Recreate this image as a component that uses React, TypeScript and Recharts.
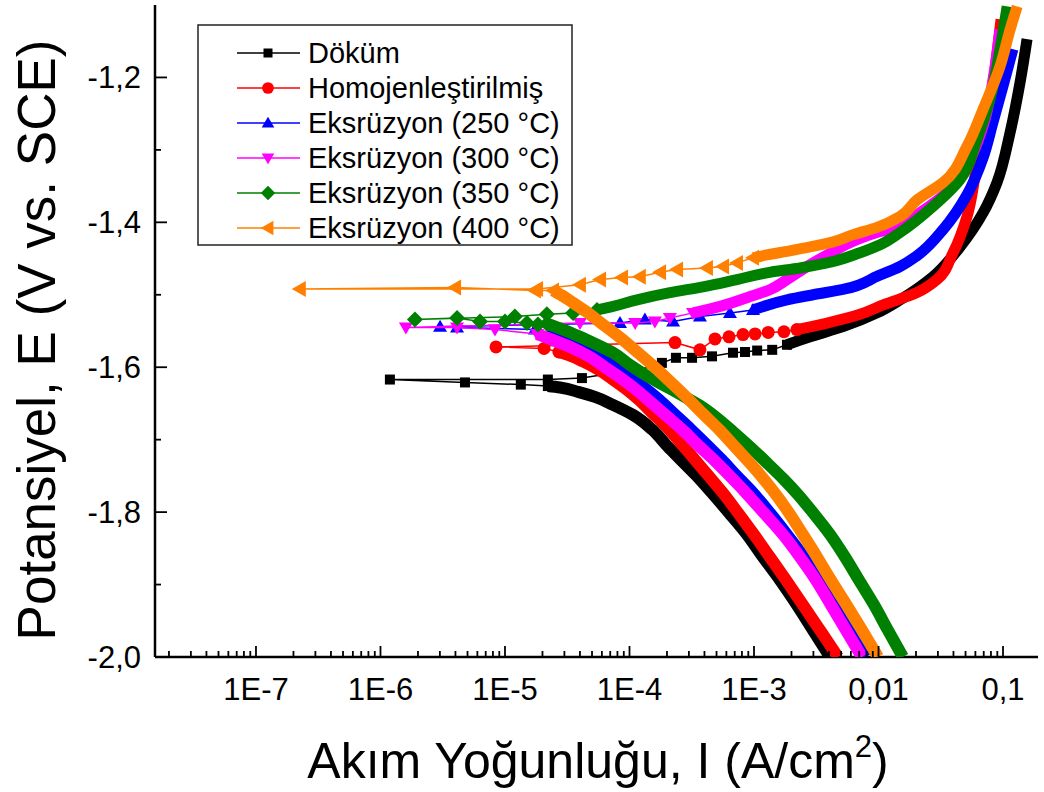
import { Legend, Scatter, ScatterChart, XAxis, YAxis } from "recharts";

// current density (A/cm²), potential (V vs. SCE)
const dokumCathodic = [
  [4.08e-3, -2.0], [2.98e-3, -1.963], [2.21e-3, -1.928], [1.62e-3, -1.894], [1.18e-3, -1.862], [8.79e-4, -1.831],
  [6.3e-4, -1.801], [4.51e-4, -1.772], [3.42e-4, -1.749], [2.59e-4, -1.728], [2.04e-4, -1.71], [1.52e-4, -1.686],
  [1.07e-4, -1.666], [7.37e-5, -1.652], [5.28e-5, -1.641], [3.86e-5, -1.634], [2.77e-5, -1.628], [2.21e-5, -1.626],
];
const dokumSparse = [
  [2.21e-5, -1.626], [1.34e-5, -1.624], [4.77e-6, -1.621], [1.19e-6, -1.617], [2.21e-5, -1.617], [4.15e-5, -1.615],
  [1.6e-4, -1.599], [1.82e-4, -1.594], [2.36e-4, -1.587], [3.18e-4, -1.587], [4.6e-4, -1.585], [6.78e-4, -1.58],
  [8.47e-4, -1.579], [1.06e-3, -1.577], [1.4e-3, -1.576], [1.84e-3, -1.569],
];
const dokumAnodic = [
  [1.84e-3, -1.569], [2.82e-3, -1.558], [5.19e-3, -1.544], [9.73e-3, -1.525], [1.49e-2, -1.507], [2.74e-2, -1.475],
  [4.51e-2, -1.434], [6.91e-2, -1.387], [8.95e-2, -1.345], [1.14e-1, -1.276], [1.37e-1, -1.207], [1.56e-1, -1.147],
];

const homojenCathodic = [
  [4.73e-3, -2.0], [3.39e-3, -1.963], [2.47e-3, -1.928], [1.81e-3, -1.894], [1.34e-3, -1.862], [1.0e-3, -1.831],
  [7.44e-4, -1.801], [5.53e-4, -1.772], [4.27e-4, -1.749], [3.36e-4, -1.728], [2.74e-4, -1.71], [2.08e-4, -1.686],
  [1.52e-4, -1.663], [1.19e-4, -1.645], [9.55e-5, -1.631], [7.37e-5, -1.617], [5.58e-5, -1.603], [4.23e-5, -1.592],
  [3.33e-5, -1.584], [2.71e-5, -1.579],
];
const homojenSparse = [
  [2.71e-5, -1.579], [2.06e-5, -1.574], [8.47e-6, -1.572], [2.32e-4, -1.566], [3.68e-4, -1.576], [4.86e-4, -1.561],
  [6.3e-4, -1.558], [8.16e-4, -1.555], [1.02e-3, -1.554], [1.3e-3, -1.552], [1.74e-3, -1.551], [2.21e-3, -1.548],
];
const homojenAnodic = [
  [2.21e-3, -1.548], [3.86e-3, -1.539], [7.1e-3, -1.527], [1.09e-2, -1.514], [2.04e-2, -1.497], [2.95e-2, -1.479],
  [3.97e-2, -1.442], [5.14e-2, -1.392], [6.18e-2, -1.323], [7.44e-2, -1.268], [8.63e-2, -1.189], [9.64e-2, -1.12],
];

const eks250Cathodic = [
  [7.93e-3, -2.0], [5.9e-3, -1.963], [4.47e-3, -1.928], [3.39e-3, -1.894], [2.52e-3, -1.862], [1.84e-3, -1.831],
  [1.34e-3, -1.801], [9.64e-4, -1.772], [7.17e-4, -1.749], [5.53e-4, -1.728], [4.35e-4, -1.71], [3.12e-4, -1.686],
  [2.24e-4, -1.663], [1.73e-4, -1.645], [1.38e-4, -1.631], [1.03e-4, -1.615], [7.93e-5, -1.601], [5.69e-5, -1.585],
  [4.15e-5, -1.573], [2.92e-5, -1.562], [2.26e-5, -1.555],
];
const eks250Sparse = [
  [2.26e-5, -1.555], [1.74e-5, -1.548], [4.12e-6, -1.545], [3.01e-6, -1.544], [8.39e-5, -1.539], [1.33e-4, -1.534],
  [2.24e-4, -1.537], [3.68e-4, -1.53], [6.41e-4, -1.525], [9.82e-4, -1.521],
];
const eks250Anodic = [
  [9.82e-4, -1.521], [1.84e-3, -1.507], [2.98e-3, -1.5], [5.38e-3, -1.492], [9.91e-3, -1.474], [1.49e-2, -1.461],
  [2.04e-2, -1.446], [3.3e-2, -1.41], [5.14e-2, -1.362], [6.91e-2, -1.311], [8.31e-2, -1.262], [1.0e-1, -1.212],
  [1.2e-1, -1.161],
];

const eks300Cathodic = [
  [7.37e-3, -2.0], [5.48e-3, -1.963], [4.15e-3, -1.928], [3.15e-3, -1.894], [2.34e-3, -1.862], [1.71e-3, -1.831],
  [1.2e-3, -1.801], [8.47e-4, -1.772], [6.3e-4, -1.749], [4.77e-4, -1.728], [3.68e-4, -1.71], [2.64e-4, -1.686],
  [1.86e-4, -1.663], [1.41e-4, -1.645], [1.13e-4, -1.631], [8.55e-5, -1.615], [6.47e-5, -1.601], [4.73e-5, -1.585],
  [3.45e-5, -1.573], [2.38e-5, -1.562], [1.81e-5, -1.554],
];
const eks300Sparse = [
  [1.81e-5, -1.554], [8.31e-6, -1.548], [4.12e-6, -1.545], [1.6e-6, -1.545], [4.0e-5, -1.539], [1.11e-4, -1.539],
  [1.6e-4, -1.537], [2.11e-4, -1.532], [3.24e-4, -1.525],
];
const eks300Anodic = [
  [3.24e-4, -1.525], [5.33e-4, -1.516], [8.79e-4, -1.504], [1.34e-3, -1.493], [1.84e-3, -1.479], [2.67e-3, -1.461],
  [3.86e-3, -1.445], [5.9e-3, -1.428], [9.73e-3, -1.414], [1.41e-2, -1.407], [2.15e-2, -1.387], [3.75e-2, -1.355],
  [5.43e-2, -1.313], [7.17e-2, -1.258], [8.31e-2, -1.203], [9.46e-2, -1.134],
];

const eks350Cathodic = [
  [1.57e-2, -2.0], [1.19e-2, -1.963], [9.2e-3, -1.928], [6.97e-3, -1.894], [5.38e-3, -1.862], [4.08e-3, -1.831],
  [2.98e-3, -1.801], [2.26e-3, -1.776], [1.74e-3, -1.755], [1.27e-3, -1.732], [9.29e-4, -1.71], [6.78e-4, -1.689],
  [4.86e-4, -1.668], [3.68e-4, -1.653], [2.79e-4, -1.641], [2.04e-4, -1.628], [1.41e-4, -1.613], [1.01e-4, -1.597],
  [7.37e-5, -1.58], [5.48e-5, -1.569], [4.0e-5, -1.558], [2.92e-5, -1.548], [2.17e-5, -1.54],
];
const eks350Sparse = [
  [2.17e-5, -1.54], [1.84e-5, -1.541], [1.5e-5, -1.539], [1.0e-5, -1.537], [6.3e-6, -1.537], [4.12e-6, -1.532],
  [1.89e-6, -1.534], [1.2e-5, -1.53], [2.17e-5, -1.527], [3.52e-5, -1.525], [5.48e-5, -1.521],
];
const eks350Anodic = [
  [5.48e-5, -1.521], [7.37e-5, -1.516], [1.15e-4, -1.507], [2.11e-4, -1.497], [3.89e-4, -1.489], [7.3e-4, -1.479],
  [1.34e-3, -1.469], [2.34e-3, -1.463], [3.86e-3, -1.456], [7.1e-3, -1.442], [1.03e-2, -1.431], [1.49e-2, -1.414],
  [2.74e-2, -1.378], [4.51e-2, -1.341], [6.18e-2, -1.286], [7.86e-2, -1.23], [9.46e-2, -1.161], [1.08e-1, -1.102],
];

const eks400Cathodic = [
  [9.91e-3, -2.0], [7.37e-3, -1.963], [5.53e-3, -1.928], [4.15e-3, -1.894], [3.21e-3, -1.862], [2.47e-3, -1.831],
  [1.91e-3, -1.801], [1.4e-3, -1.769], [9.82e-4, -1.737], [7.04e-4, -1.71], [5.24e-4, -1.686], [3.82e-4, -1.663],
  [2.74e-4, -1.638], [2.04e-4, -1.617], [1.57e-4, -1.599], [1.17e-4, -1.58], [8.39e-5, -1.559], [5.9e-5, -1.539],
  [4.47e-5, -1.523], [3.52e-5, -1.511], [2.87e-5, -1.501], [2.43e-5, -1.494],
];
const eks400Sparse = [
  [2.43e-5, -1.494], [1.74e-5, -1.494], [3.97e-6, -1.49], [2.25e-7, -1.492], [1.81e-5, -1.492], [4.0e-5, -1.486],
  [5.8e-5, -1.479], [8.71e-5, -1.476], [1.21e-4, -1.475], [1.76e-4, -1.469], [2.41e-4, -1.465], [4.19e-4, -1.463],
  [5.64e-4, -1.461], [7.3e-4, -1.456], [9.82e-4, -1.449],
];
const eks400Anodic = [
  [9.82e-4, -1.449], [1.27e-3, -1.445], [1.84e-3, -1.44], [2.82e-3, -1.434], [4.31e-3, -1.427], [6.24e-3, -1.417],
  [9.73e-3, -1.407], [1.49e-2, -1.392], [2.04e-2, -1.369], [3.3e-2, -1.345], [5.14e-2, -1.295], [6.91e-2, -1.244],
  [9.46e-2, -1.185], [1.14e-1, -1.134], [1.3e-1, -1.102],
];

const X_MAJOR = [1e-7, 1e-6, 1e-5, 1e-4, 1e-3, 1e-2, 1e-1];
const X_LABELS = ["1E-7", "1E-6", "1E-5", "1E-4", "1E-3", "0,01", "0,1"];
const X_DECADES = [1e-8, 1e-7, 1e-6, 1e-5, 1e-4, 1e-3, 1e-2, 1e-1];
const X_MINOR_STEPS = [2, 3, 4, 5, 6, 7, 8, 9];
const Y_TICKS = [-2.0, -1.9, -1.8, -1.7, -1.6, -1.5, -1.4, -1.3, -1.2];
const Y_LABELS = ["-2,0", "", "-1,8", "", "-1,6", "", "-1,4", "", "-1,2"];

const X_DOMAIN = [1.545e-8, 0.191];
const Y_DOMAIN = [-2.0, -1.1];

const X_TICKS = [
  ...X_MAJOR,
  ...X_DECADES.flatMap(d => X_MINOR_STEPS.map(s => s * d)),
].filter(v => v >= X_DOMAIN[0] && v <= X_DOMAIN[1]).sort((a, b) => a - b);

const toPoints = (rows: number[][]) => rows.map(([i, e]) => ({ i, e }));

const FONT = "'Liberation Sans', Arial, Helvetica, sans-serif";

const SERIES = [
  { name: "Döküm", color: "#000000", marker: "square", cathodic: dokumCathodic, sparse: dokumSparse, anodic: dokumAnodic },
  { name: "Homojenleştirilmiş", color: "#ff0000", marker: "circle", cathodic: homojenCathodic, sparse: homojenSparse, anodic: homojenAnodic },
  { name: "Eksrüzyon (250 °C)", color: "#0000ff", marker: "up", cathodic: eks250Cathodic, sparse: eks250Sparse, anodic: eks250Anodic },
  { name: "Eksrüzyon (300 °C)", color: "#ff00ff", marker: "down", cathodic: eks300Cathodic, sparse: eks300Sparse, anodic: eks300Anodic },
  { name: "Eksrüzyon (350 °C)", color: "#008000", marker: "diamond", cathodic: eks350Cathodic, sparse: eks350Sparse, anodic: eks350Anodic },
  { name: "Eksrüzyon (400 °C)", color: "#ff8000", marker: "left", cathodic: eks400Cathodic, sparse: eks400Sparse, anodic: eks400Anodic },
];

function Marker({ kind, cx, cy, color, s = 1 }: { kind: string; cx: number; cy: number; color: string; s?: number }) {
  switch (kind) {
    case "square":
      return <rect x={cx - 5 * s} y={cy - 5 * s} width={10 * s} height={10 * s} fill={color} />;
    case "circle":
      return <circle cx={cx} cy={cy} r={6.5 * s} fill={color} />;
    case "up":
      return <polygon points={`${cx},${cy - 7 * s} ${cx + 7 * s},${cy + 5 * s} ${cx - 7 * s},${cy + 5 * s}`} fill={color} />;
    case "down":
      return <polygon points={`${cx - 7 * s},${cy - 5 * s} ${cx + 7 * s},${cy - 5 * s} ${cx},${cy + 7 * s}`} fill={color} />;
    case "diamond":
      return <polygon points={`${cx},${cy - 8 * s} ${cx + 8 * s},${cy} ${cx},${cy + 8 * s} ${cx - 8 * s},${cy}`} fill={color} />;
    default:
      return <polygon points={`${cx - 8 * s},${cy} ${cx + 6 * s},${cy - 8 * s} ${cx + 6 * s},${cy + 8 * s}`} fill={color} />;
  }
}

const XTick = (props: any) => {
  const { x, y, payload } = props;
  const idx = X_MAJOR.findIndex(v => Math.abs(Math.log10(v) - Math.log10(payload.value)) < 1e-6);
  const major = idx >= 0;
  return (
    <g>
      <line x1={x} x2={x} y1={y} y2={y - (major ? 11 : 6)} stroke="#000" strokeWidth={1.8} />
      {major && (
        <text x={x} y={y + 43} textAnchor="middle" fontSize={31} fill="#000" fontFamily={FONT}>
          {X_LABELS[idx]}
        </text>
      )}
    </g>
  );
};

const YTick = (props: any) => {
  const { x, y, payload } = props;
  const idx = Y_TICKS.findIndex(v => Math.abs(v - payload.value) < 1e-6);
  const label = idx >= 0 ? Y_LABELS[idx] : "";
  return (
    <g>
      <line x1={x} x2={x + (label ? 12 : 6)} y1={y} y2={y} stroke="#000" strokeWidth={1.8} />
      {label && (
        <text x={x - 14} y={y + 11} textAnchor="end" fontSize={31} fill="#000" fontFamily={FONT}>
          {label}
        </text>
      )}
    </g>
  );
};

const XTitle = () => (
  <text x={598} y={778} textAnchor="middle" fontSize={50} fill="#000" fontFamily={FONT}>
    Akım Yoğunluğu, I (A/cm<tspan dy={-21} fontSize={31}>2</tspan>
    <tspan dy={21}>)</tspan>
  </text>
);

const YTitle = () => (
  <text x={55} y={340} transform="rotate(-90 55 340)" textAnchor="middle" fontSize={53} fill="#000" fontFamily={FONT}>
    Potansiyel, E (V vs. SCE)
  </text>
);

const renderLegend = () => (
  <svg width={376} height={222} style={{ display: "block" }}>
    <rect x={1} y={1} width={374} height={220} fill="#fff" stroke="#222" strokeWidth={1.5} />
    {SERIES.map((s, k) => {
      const cy = 29 + k * 35;
      return (
        <g key={s.name}>
          <line x1={40} x2={103} y1={cy} y2={cy} stroke={s.color} strokeWidth={1.3} />
          <Marker kind={s.marker} cx={71} cy={cy} color={s.color} s={0.9} />
          <text x={111} y={cy + 10} fontSize={29} fill="#000" fontFamily={FONT}>
            {s.name}
          </text>
        </g>
      );
    })}
  </svg>
);

const hidden = () => <g />;

export default function App() {
  return (
    <div style={{ position: "absolute", left: 0, top: 0, background: "#fff" }}>
      <ScatterChart width={1044} height={792} margin={{ top: 5, right: 6, bottom: 0, left: 0 }} style={{ fontFamily: FONT }}>
        <XAxis
          dataKey="i"
          type="number"
          scale="log"
          domain={X_DOMAIN}
          allowDataOverflow
          ticks={X_TICKS}
          interval={0}
          tick={<XTick />}
          tickLine={false}
          tickSize={0}
          tickMargin={0}
          axisLine={{ stroke: "#000", strokeWidth: 2.5 }}
          height={135}
          label={<XTitle />}
        />
        <YAxis
          dataKey="e"
          type="number"
          domain={Y_DOMAIN}
          allowDataOverflow
          ticks={Y_TICKS}
          interval={0}
          tick={<YTick />}
          tickLine={false}
          tickSize={0}
          tickMargin={0}
          axisLine={{ stroke: "#000", strokeWidth: 2.5 }}
          width={155}
          label={<YTitle />}
        />
        <XAxis xAxisId="top" orientation="top" type="number" domain={[0, 1]} tick={false} tickLine={false} height={0} axisLine={{ stroke: "#000", strokeWidth: 2 }} />
        <YAxis yAxisId="right" orientation="right" type="number" domain={[0, 1]} tick={false} tickLine={false} width={0} axisLine={{ stroke: "#000", strokeWidth: 2 }} />
        <Legend layout="vertical" align="center" verticalAlign="middle" content={renderLegend} wrapperStyle={{ left: 197, top: 24, width: 376, height: 222 }} />
        {SERIES.flatMap(s => [
          <Scatter
            key={s.name + "-c"}
            name={s.name}
            data={toPoints(s.cathodic)}
            fill={s.color}
            line={{ stroke: s.color, strokeWidth: 12, strokeLinejoin: "round" }}
            lineJointType="monotoneY"
            shape={hidden}
            isAnimationActive={false}
          />,
          <Scatter
            key={s.name + "-a"}
            name={s.name}
            data={toPoints(s.anodic)}
            fill={s.color}
            line={{ stroke: s.color, strokeWidth: 11, strokeLinejoin: "round" }}
            lineJointType="monotoneY"
            shape={hidden}
            isAnimationActive={false}
          />,
          <Scatter
            key={s.name + "-s"}
            name={s.name}
            data={toPoints(s.sparse)}
            fill={s.color}
            line={{ stroke: s.color, strokeWidth: 1.5 }}
            shape={(p: any) => <Marker kind={s.marker} cx={p.cx} cy={p.cy} color={s.color} />}
            isAnimationActive={false}
          />,
        ])}
      </ScatterChart>
    </div>
  );
}
